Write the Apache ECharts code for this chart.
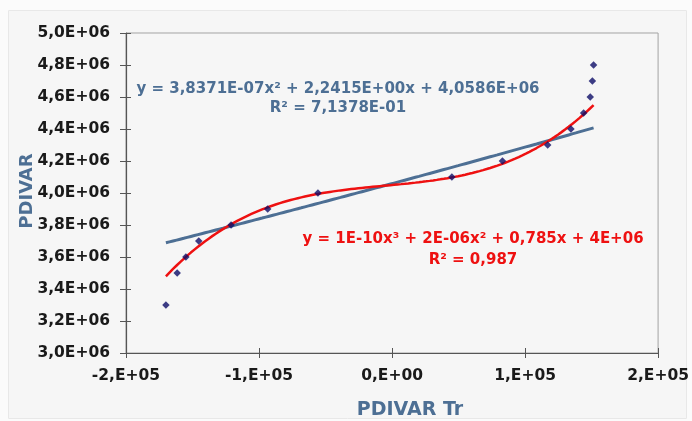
<!DOCTYPE html>
<html>
<head>
<meta charset="utf-8">
<script src="https://cdn.jsdelivr.net/npm/echarts@6/dist/echarts.min.js"></script>
<style>
  html, body { margin: 0; padding: 0; background: #fbfbfb; }
  #chart { width: 692px; height: 421px; }
</style>
</head>
<body>
<div id="chart"></div>
<script>
// PDIVAR Tr (x) against PDIVAR (y)
const pdivarTr = [-170000, -161500, -155000, -145300, -121000, -93500, -55700,
                  45000, 83000, 117000, 134500, 144000, 149000, 150600, 151500];
const pdivar   = [3.3e6, 3.5e6, 3.6e6, 3.7e6, 3.8e6, 3.9e6, 4.0e6,
                  4.1e6, 4.2e6, 4.3e6, 4.4e6, 4.5e6, 4.6e6, 4.7e6, 4.8e6];

// Tick labels
const xTickLabels = ['-2,E+05', '-1,E+05', '0,E+00', '1,E+05', '2,E+05'];
const yTickLabels = ['3,0E+06', '3,2E+06', '3,4E+06', '3,6E+06', '3,8E+06', '4,0E+06',
                     '4,2E+06', '4,4E+06', '4,6E+06', '4,8E+06', '5,0E+06'];

// Trendlines: polynomial coefficients c0, c1, c2, c3 and their printed equations
const quadCoef  = [4.0586e6, 2.2415, 3.8371e-7];
const cubicCoef = [4.05e6, 0.785, 1.64e-6, 9.86e-11];
const quadText  = ['y = 3,8371E-07x² + 2,2415E+00x + 4,0586E+06', 'R² = 7,1378E-01'];
const cubicText = ['y = 1E-10x³ + 2E-06x² + 0,785x + 4E+06', 'R² = 0,987'];

// Sample a polynomial across the span of the data
function curve(coef) {
  const lo = Math.min(...pdivarTr), hi = Math.max(...pdivarTr), pts = [];
  for (let i = 0; i <= 120; i++) {
    const x = lo + (hi - lo) * i / 120;
    pts.push([x, coef.reduce((acc, c, k) => acc + c * Math.pow(x, k), 0)]);
  }
  return pts;
}

const tickFont = { fontFamily: 'DejaVu Sans', fontWeight: 'bold', fontSize: 15.5, color: '#1a1a1a' };
const blue = '#4d6f94';
const red = '#ee1111';
const axisColor = '#555';

const chart = echarts.init(document.getElementById('chart'));
chart.setOption({
  backgroundColor: 'transparent',
  animation: false,
  grid: { left: 126, top: 33, width: 533, height: 320, show: true,
          borderColor: '#a3a3a3', borderWidth: 1, backgroundColor: 'transparent' },
  xAxis: [{
    type: 'value', min: -200000, max: 200000, interval: 100000,
    axisLine: { show: true, onZero: false, lineStyle: { color: axisColor, width: 1.2 } },
    axisTick: { show: true, length: 5, lineStyle: { color: axisColor } },
    splitLine: { show: false },
    axisLabel: Object.assign({ margin: 15, formatter: (v) => xTickLabels[Math.round((v + 200000) / 100000)] }, tickFont)
  }, {
    // inner half of the crossing tick marks
    type: 'value', min: -200000, max: 200000, interval: 100000, position: 'bottom',
    axisLine: { show: false, onZero: false }, splitLine: { show: false }, axisLabel: { show: false },
    axisTick: { show: true, inside: true, length: 5, lineStyle: { color: axisColor } }
  }],
  yAxis: [{
    type: 'value', min: 3000000, max: 5000000, interval: 200000,
    axisLine: { show: true, onZero: false, lineStyle: { color: axisColor, width: 1.2 } },
    axisTick: { show: true, length: 6, lineStyle: { color: axisColor } },
    splitLine: { show: false },
    axisLabel: Object.assign({ margin: 16, formatter: (v) => yTickLabels[Math.round((v - 3000000) / 200000)] }, tickFont)
  }, {
    type: 'value', min: 3000000, max: 5000000, interval: 200000, position: 'left',
    axisLine: { show: false, onZero: false }, splitLine: { show: false }, axisLabel: { show: false },
    axisTick: { show: true, inside: true, length: 5, lineStyle: { color: axisColor } }
  }],
  series: [{
    type: 'line', data: curve(quadCoef), showSymbol: false,
    lineStyle: { color: blue, width: 3 }, z: 2
  }, {
    type: 'line', data: curve(cubicCoef), showSymbol: false,
    lineStyle: { color: red, width: 2.5 }, z: 3
  }, {
    type: 'scatter', data: pdivarTr.map((x, i) => [x, pdivar[i]]),
    symbol: 'diamond', symbolSize: 7.5, itemStyle: { color: '#0e0e68' }, z: 4
  }],
  graphic: [{
    type: 'rect', left: 8, top: 10, shape: { width: 678, height: 408 }, z: -10,
    style: { fill: '#f6f6f6', stroke: '#e8e8e8' }
  }, {
    type: 'text', x: 338, y: 80, z: 10,
    style: { text: quadText.join('\n'), fill: blue, font: 'bold 15px "DejaVu Sans"',
             align: 'center', verticalAlign: 'top', lineHeight: 19 }
  }, {
    type: 'text', x: 473, y: 229, z: 10,
    style: { text: cubicText.join('\n'), fill: red, font: 'bold 15px "DejaVu Sans"',
             align: 'center', verticalAlign: 'top', lineHeight: 21 }
  }, {
    type: 'text', x: 410, y: 410, z: 10,
    style: { text: 'PDIVAR Tr', fill: blue, font: 'bold 19px "DejaVu Sans"',
             align: 'center', verticalAlign: 'middle' }
  }, {
    type: 'text', x: 27, y: 191, z: 10, rotation: Math.PI / 2,
    style: { text: 'PDIVAR', fill: blue, font: 'bold 18px "DejaVu Sans"',
             align: 'center', verticalAlign: 'middle' }
  }]
});
</script>
</body>
</html>
